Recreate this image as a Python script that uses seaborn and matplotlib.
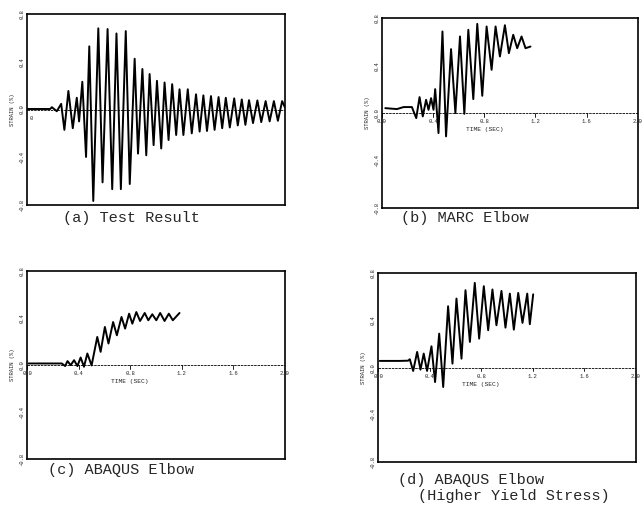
import matplotlib
matplotlib.use('Agg')
import numpy as np
import pandas as pd
import seaborn as sns
import matplotlib.pyplot as plt

sns.set_style('white')
plt.rcParams['font.family'] = ['Liberation Mono', 'DejaVu Sans Mono']

# (a) test result - peaks/troughs
t_a = [0.0, 0.18, 0.193, 0.231, 0.265, 0.290, 0.321, 0.355, 0.386, 0.404, 0.429, 0.458,
       0.483, 0.514, 0.553, 0.586, 0.625, 0.661, 0.694, 0.728, 0.766, 0.797, 0.835,
       0.861, 0.895, 0.925, 0.951, 0.982, 1.008, 1.041, 1.067, 1.098, 1.126, 1.157,
       1.183, 1.213, 1.247, 1.278, 1.311, 1.339, 1.368, 1.396, 1.427, 1.455, 1.486,
       1.514, 1.542, 1.573, 1.607, 1.635, 1.666, 1.694, 1.722, 1.753, 1.787, 1.817,
       1.851, 1.882, 1.915, 1.946, 1.979, 2.0]
s_a = [0.005, 0.005, 0.020, -0.014, 0.048, -0.170, 0.156, -0.156, 0.099, -0.099, 0.233,
       -0.397, 0.530, -0.766, 0.681, -0.610, 0.675, -0.667, 0.638, -0.667, 0.658, -0.624,
       0.426, -0.369, 0.340, -0.383, 0.298, -0.298, 0.241, -0.326, 0.227, -0.255, 0.213,
       -0.213, 0.170, -0.213, 0.170, -0.199, 0.128, -0.184, 0.119, -0.179, 0.113, -0.170,
       0.105, -0.156, 0.099, -0.150, 0.094, -0.133, 0.085, -0.128, 0.079, -0.113, 0.077,
       -0.105, 0.071, -0.099, 0.071, -0.094, 0.071, 0.02]

# (b) MARC elbow
t_b = [0.026, 0.117, 0.169, 0.234, 0.268, 0.294, 0.319, 0.345, 0.364, 0.384, 0.403, 0.416,
       0.442, 0.473, 0.501, 0.540, 0.574, 0.610, 0.644, 0.675, 0.714, 0.745, 0.784, 0.818,
       0.857, 0.888, 0.922, 0.961, 0.992, 1.026, 1.057, 1.091, 1.122, 1.161]
s_b = [0.042, 0.034, 0.051, 0.051, -0.042, 0.135, -0.028, 0.112, 0.028, 0.126, 0.028, 0.202,
       -0.168, 0.688, -0.196, 0.539, 0.0, 0.646, -0.006, 0.702, 0.118, 0.752, 0.146, 0.730,
       0.365, 0.730, 0.477, 0.741, 0.505, 0.660, 0.547, 0.646, 0.547, 0.561]

# (c) ABAQUS elbow
t_c = [0.013, 0.270, 0.296, 0.314, 0.339, 0.365, 0.391, 0.416, 0.442, 0.468, 0.501, 0.545,
       0.571, 0.604, 0.632, 0.668, 0.697, 0.733, 0.761, 0.792, 0.817, 0.848, 0.877, 0.913,
       0.941, 0.972, 1.003, 1.033, 1.067, 1.100, 1.131, 1.183]
s_c = [0.014, 0.014, -0.008, 0.034, 0.0, 0.042, -0.008, 0.065, -0.014, 0.099, -0.003, 0.240,
       0.113, 0.325, 0.184, 0.367, 0.254, 0.410, 0.311, 0.438, 0.353, 0.452, 0.376, 0.444,
       0.382, 0.433, 0.382, 0.444, 0.376, 0.438, 0.382, 0.444]

# (d) ABAQUS elbow, higher yield stress
t_d = [0.013, 0.168, 0.233, 0.246, 0.272, 0.303, 0.329, 0.354, 0.380, 0.414, 0.442, 0.474,
       0.505, 0.543, 0.577, 0.608, 0.647, 0.678, 0.712, 0.750, 0.784, 0.820, 0.854, 0.887,
       0.918, 0.957, 0.988, 1.022, 1.053, 1.087, 1.120, 1.157, 1.177, 1.203]
s_d = [0.057, 0.057, 0.059, 0.071, -0.028, 0.133, -0.017, 0.119, -0.028, 0.181, -0.122, 0.288,
       -0.164, 0.520, 0.034, 0.585, 0.076, 0.656, 0.218, 0.718, 0.246, 0.690, 0.317, 0.662,
       0.359, 0.650, 0.339, 0.627, 0.322, 0.633, 0.379, 0.627, 0.368, 0.621]

y_ticks = [-0.8, -0.4, 0.0, 0.4, 0.8]
y_labels = ['-0.8', '-0.4', '0.0', '0.4', '0.8']
x_ticks = [0.0, 0.4, 0.8, 1.2, 1.6, 2.0]
x_labels = ['0.0', '0.4', '0.8', '1.2', '1.6', '2.0']

fig = plt.figure(figsize=(6.43, 5.05), dpi=100)
boxes = [[0.042, 0.594, 0.401, 0.378],
         [0.594, 0.588, 0.398, 0.376],
         [0.042, 0.091, 0.401, 0.372],
         [0.588, 0.085, 0.401, 0.374]]
series = [(t_a, s_a), (t_b, s_b), (t_c, s_c), (t_d, s_d)]

for i, (box, (t, s)) in enumerate(zip(boxes, series)):
    ax = fig.add_axes(box)
    df = pd.DataFrame({'t': t, 's': s})
    ax.axhline(0, color='black', lw=0.6, ls=(0, (3, 1)), zorder=1)
    sns.lineplot(data=df, x='t', y='s', ax=ax, color='black', lw=1.4,
                 sort=False, estimator=None, zorder=2)
    ax.set_xlim(0, 2.0)
    ax.set_ylim(-0.8, 0.8)
    ax.set_xlabel('')
    ax.set_ylabel('STRAIN (%)', fontsize=4, labelpad=3)
    ax.set_yticks(y_ticks)
    ax.set_yticklabels(y_labels, rotation=90, va='center', fontsize=4)
    ax.tick_params(axis='y', length=0, pad=2)
    ax.set_xticks([])
    for sp in ax.spines.values():
        sp.set_color('black')
        sp.set_linewidth(1.2)
    # x tick labels sit just under the zero line
    if i == 0:
        ax.text(0.02, -0.05, '0', fontsize=4, ha='left', va='top')
    else:
        for xt, xl in zip(x_ticks, x_labels):
            ax.plot([xt, xt], [0, -0.03], color='black', lw=0.6)
            ax.text(xt, -0.05, xl, fontsize=4, ha='center', va='top')
        ax.text(0.8, -0.12, 'TIME (SEC)', fontsize=4.5, ha='center', va='top')

cap = dict(fontsize=11, ha='left', va='center')
fig.text(0.098, 0.568, '(a) Test Result', **cap)
fig.text(0.624, 0.568, '(b) MARC Elbow', **cap)
fig.text(0.075, 0.069, '(c) ABAQUS Elbow', **cap)
fig.text(0.619, 0.050, '(d) ABAQUS Elbow', **cap)
fig.text(0.650, 0.018, '(Higher Yield Stress)', **cap)

plt.savefig('out.png', dpi=100)
